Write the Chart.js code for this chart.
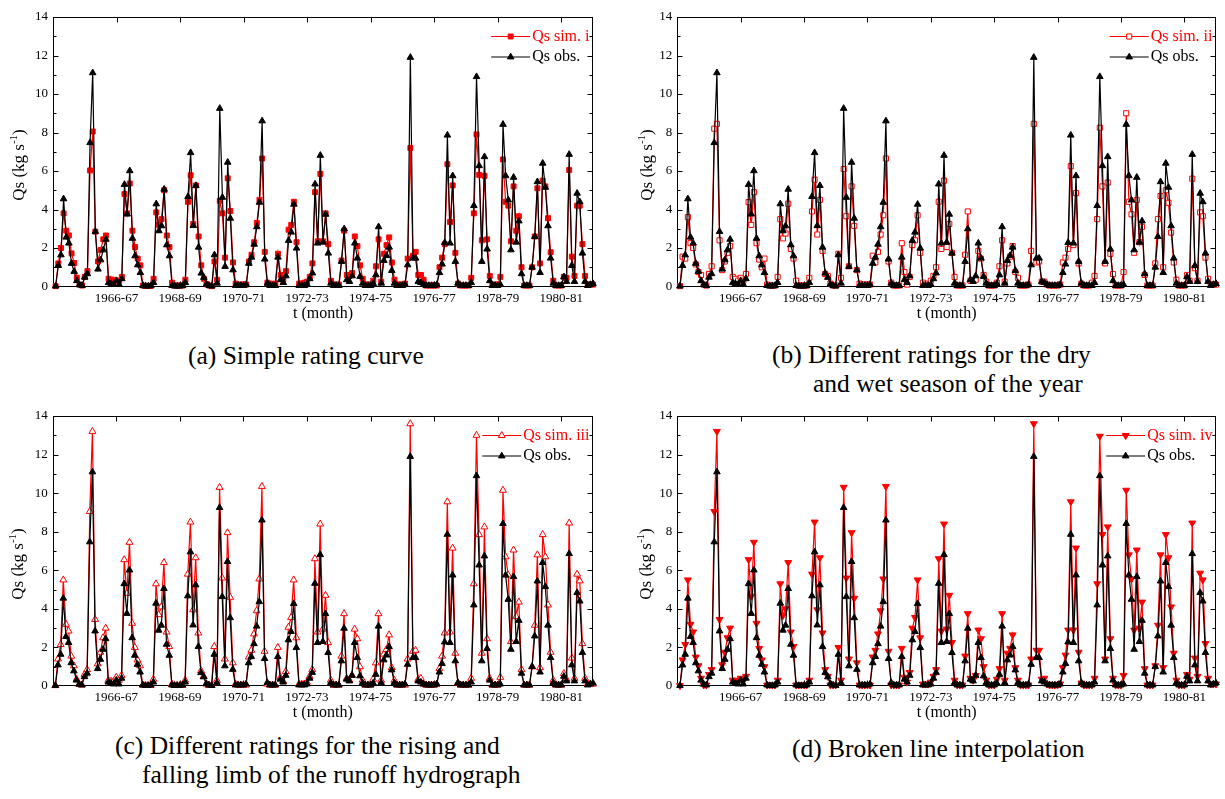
<!DOCTYPE html>
<html>
<head>
<meta charset="utf-8">
<script src="https://cdn.jsdelivr.net/npm/chart.js@4.4.1/dist/chart.umd.min.js"></script>
<style>
html,body{margin:0;padding:0;background:#fff;width:1225px;height:799px;overflow:hidden;}
.panel{position:absolute;}
.cap{position:absolute;font-family:"Liberation Serif","Times New Roman",serif;font-size:25.5px;line-height:1;white-space:nowrap;color:#000;}
</style>
</head>
<body>
<div class="panel" style="left:0;top:0;width:612px;height:330px"><canvas id="ca" width="612" height="330"></canvas></div>
<div class="panel" style="left:612px;top:0;width:613px;height:330px"><canvas id="cb" width="613" height="330"></canvas></div>
<div class="panel" style="left:0;top:400px;width:612px;height:330px"><canvas id="cc" width="612" height="330"></canvas></div>
<div class="panel" style="left:612px;top:400px;width:613px;height:330px"><canvas id="cd" width="613" height="330"></canvas></div>

<div class="cap" style="left:188px;top:342.6px">(a) Simple rating curve</div>
<div class="cap" style="left:772px;top:341.6px">(b) Different ratings for the dry</div>
<div class="cap" style="left:813px;top:370.6px">and wet season of the year</div>
<div class="cap" style="left:115px;top:732.6px">(c) Different ratings for the rising and</div>
<div class="cap" style="left:142px;top:761.6px">falling limb of the runoff hydrograph</div>
<div class="cap" style="left:792px;top:735.6px">(d) Broken line interpolation</div>

<script>
// ---- data (monthly sediment discharge, kg/s), months 1..204 ----
const tickMonths = [24, 48, 72, 96, 120, 144, 168, 192];
const tickLabels = ['1966-67', '1968-69', '1970-71', '1972-73', '1974-75', '1976-77', '1978-79', '1980-81'];

const qsObs = [
  0.02, 1.09, 1.64, 4.55, 2.56, 2.25, 1.2, 0.78, 0.3, 0.09,
  0.05, 0.48, 0.66, 7.47, 11.1, 2.85, 0.9, 1.38, 1.9, 2.45,
  0.2, 0.15, 0.1, 0.3, 0.1, 0.4, 5.3, 3.76, 6.01, 2.5,
  1.59, 1.12, 0.72, 0.05, 0.02, 0.02, 0.05, 0.2, 4.29, 2.89,
  3.15, 5.05, 2.16, 1.59, 0.05, 0.02, 0.02, 0.02, 0.05, 0.2,
  4.67, 6.95, 3.16, 5.24, 2.04, 0.69, 0.47, 0.12, 0.05, 0.02,
  1.64, 0.17, 9.25, 4.63, 1.04, 6.45, 3.54, 0.86, 0.05, 0.05,
  0.05, 0.05, 0.1, 1.2, 1.52, 2.19, 3.1, 4.37, 8.6, 1.42,
  0.17, 0.05, 0.05, 0.05, 1.52, 0.35, 0.2, 0.55, 2.39, 2.82,
  4.27, 1.99, 0.05, 0.05, 0.05, 0.1, 0.4, 0.7, 5.32, 2.25,
  6.81, 2.3, 3.75, 1.73, 0.17, 0.05, 0.05, 0.05, 1.3, 2.99,
  0.35, 0.26, 0.55, 2.25, 1.47, 0.52, 0.17, 0.05, 0.05, 0.05,
  0.15, 0.6, 3.1, 0.17, 1.35, 1.6, 2.04, 0.83, 0.17, 0.05,
  0.05, 0.05, 0.1, 1.12, 11.9, 1.47, 1.47, 0.26, 0.2, 0.1,
  0.05, 0.05, 0.05, 0.05, 0.1, 0.72, 1.16, 2.28, 7.86, 2.25,
  5.75, 1.3, 0.17, 0.05, 0.05, 0.05, 0.05, 0.2, 4.2, 10.9,
  6.27, 1.3, 6.74, 1.94, 0.3, 0.05, 0.05, 0.05, 0.1, 8.42,
  5.75, 4.49, 1.9, 5.67, 2.3, 3.4, 0.66, 0.05, 0.05, 0.05,
  1.0, 2.59, 5.44, 0.72, 6.4, 5.15, 3.15, 1.47, 0.17, 0.05,
  0.05, 0.05, 0.5, 0.26, 6.86, 1.09, 0.26, 4.84, 4.4, 1.73,
  0.26, 0.05, 0.1, 0.15
];

const qsSimI = [
  0.02, 1.2, 2.0, 3.8, 2.9, 2.65, 1.72, 1.22, 0.45, 0.1,
  0.05, 0.5, 0.8, 6.03, 8.05, 2.85, 1.3, 1.9, 2.45, 2.65,
  0.4, 0.35, 0.35, 0.3, 0.3, 0.5, 4.8, 3.8, 5.35, 2.9,
  2.05, 1.45, 1.1, 0.05, 0.03, 0.03, 0.03, 0.4, 3.85, 3.2,
  3.5, 5.0, 2.65, 2.05, 0.2, 0.05, 0.05, 0.05, 0.05, 0.35,
  4.4, 5.78, 3.25, 5.25, 2.6, 1.1, 0.4, 0.12, 0.05, 0.02,
  1.3, 0.35, 4.45, 3.8, 1.5, 5.62, 3.92, 1.25, 0.15, 0.1,
  0.1, 0.1, 0.1, 1.3, 1.65, 2.3, 3.3, 4.5, 6.65, 1.8,
  0.2, 0.15, 0.1, 0.15, 1.7, 0.6, 0.35, 0.8, 2.95, 3.2,
  4.4, 2.3, 0.15, 0.15, 0.2, 0.25, 0.5, 1.2, 4.9, 2.35,
  5.85, 2.35, 3.8, 2.2, 0.3, 0.1, 0.1, 0.1, 1.35, 2.9,
  0.6, 0.55, 0.7, 2.6, 2.1, 1.1, 0.4, 0.1, 0.1, 0.1,
  0.3, 1.05, 2.45, 0.25, 1.7, 2.15, 2.55, 1.25, 0.35, 0.1,
  0.1, 0.1, 0.15, 1.45, 7.2, 1.6, 1.8, 0.6, 0.6, 0.35,
  0.05, 0.05, 0.05, 0.05, 0.05, 1.0, 1.5, 2.2, 6.35, 3.35,
  5.25, 1.75, 0.15, 0.05, 0.05, 0.05, 0.05, 0.45, 3.8, 7.9,
  5.8, 2.4, 5.75, 2.45, 0.55, 0.1, 0.1, 0.1, 0.5, 6.6,
  4.4, 4.2, 2.35, 5.2, 2.9, 3.65, 1.0, 0.05, 0.05, 0.05,
  1.0, 2.6, 5.1, 1.2, 5.5, 5.2, 3.55, 1.78, 0.3, 0.05,
  0.05, 0.05, 0.5, 0.45, 6.05, 1.55, 0.55, 4.2, 4.2, 2.2,
  0.55, 0.1, 0.1, 0.1
];

const qsSimII = [
  0.02, 1.55, 1.45, 3.6, 2.25, 2.0, 1.15, 0.75, 0.6, 0.1,
  0.05, 0.65, 1.05, 8.2, 8.45, 2.4, 0.85, 1.3, 1.75, 2.1,
  0.5, 0.4, 0.3, 0.45, 0.3, 0.65, 4.38, 3.2, 4.9, 2.25,
  1.4, 1.0, 1.45, 0.1, 0.05, 0.05, 0.05, 0.5, 3.5, 2.5,
  2.75, 4.3, 1.95, 1.45, 0.3, 0.05, 0.05, 0.05, 0.05, 0.45,
  3.9, 5.55, 2.7, 4.5, 1.85, 0.65, 0.55, 0.15, 0.05, 0.05,
  1.7, 0.45, 6.1, 3.65, 1.05, 5.2, 3.15, 0.85, 0.15, 0.1,
  0.1, 0.1, 0.1, 1.6, 1.25, 1.8, 2.7, 3.7, 6.65, 1.3,
  0.2, 0.05, 0.05, 0.05, 2.25, 0.75, 0.1, 0.5, 2.15, 2.4,
  3.7, 1.75, 0.2, 0.1, 0.15, 0.3, 0.55, 1.0, 4.4, 1.95,
  5.5, 2.05, 3.25, 1.75, 0.5, 0.05, 0.05, 0.05, 1.65, 3.9,
  0.3, 0.3, 0.35, 1.85, 1.45, 0.6, 0.25, 0.05, 0.05, 0.05,
  0.2, 1.05, 2.4, 0.25, 1.2, 1.55, 2.1, 0.75, 0.45, 0.05,
  0.05, 0.05, 0.1, 1.85, 8.45, 1.25, 1.3, 0.25, 0.25, 0.1,
  0.05, 0.05, 0.05, 0.05, 0.1, 1.25, 1.5, 1.95, 6.25, 2.15,
  4.85, 1.2, 0.15, 0.05, 0.05, 0.05, 0.2, 0.55, 3.5, 8.25,
  5.2, 1.2, 5.4, 1.7, 0.65, 0.05, 0.05, 0.05, 0.75, 9.0,
  4.4, 3.75, 1.75, 4.5, 2.3, 3.1, 0.6, 0.05, 0.05, 0.05,
  1.2, 3.5, 4.7, 1.0, 5.0, 4.35, 2.8, 1.25, 0.35, 0.05,
  0.05, 0.05, 0.6, 0.3, 5.6, 0.95, 0.3, 3.85, 3.65, 1.5,
  0.4, 0.1, 0.1, 0.1
];

const qsSimIII = [
  0.02, 1.4, 2.15, 5.5, 3.2, 2.85, 1.55, 1.05, 0.35, 0.1,
  0.05, 0.6, 0.85, 9.05, 13.2, 3.45, 1.15, 1.75, 2.5, 3.0,
  0.3, 0.25, 0.25, 0.45, 0.3, 0.55, 6.55, 4.8, 7.45, 3.25,
  2.0, 1.35, 1.05, 0.05, 0.03, 0.03, 0.03, 0.35, 5.3, 3.7,
  4.1, 6.4, 2.8, 2.05, 0.1, 0.03, 0.03, 0.03, 0.03, 0.3,
  5.8, 8.5, 3.95, 6.65, 2.75, 0.8, 0.5, 0.1, 0.03, 0.03,
  2.05, 0.3, 10.3, 5.6, 1.4, 7.95, 4.6, 1.2, 0.1, 0.05,
  0.05, 0.05, 0.05, 1.5, 1.85, 2.7, 3.9, 5.55, 10.35, 1.8,
  0.1, 0.05, 0.05, 0.05, 2.0, 0.45, 0.25, 0.75, 3.05, 3.55,
  5.5, 2.5, 0.1, 0.1, 0.1, 0.2, 0.5, 0.85, 6.6, 2.8,
  8.4, 2.95, 4.7, 2.25, 0.3, 0.05, 0.05, 0.05, 1.55, 3.75,
  0.4, 0.3, 0.55, 2.95, 2.45, 1.0, 0.3, 0.05, 0.05, 0.05,
  0.35, 1.2, 3.75, 0.3, 1.65, 1.9, 2.65, 0.95, 0.3, 0.05,
  0.05, 0.05, 0.05, 1.4, 13.6, 1.8, 1.85, 0.35, 0.4, 0.1,
  0.05, 0.05, 0.05, 0.05, 0.1, 0.9, 1.55, 2.75, 9.55, 2.8,
  7.15, 1.7, 0.15, 0.05, 0.05, 0.05, 0.05, 0.4, 5.3, 13.0,
  7.85, 1.7, 8.25, 2.45, 0.4, 0.05, 0.05, 0.05, 0.45, 10.15,
  6.7, 5.75, 2.3, 7.05, 3.6, 4.35, 0.85, 0.05, 0.05, 0.05,
  1.0, 3.15, 6.8, 0.95, 7.85, 6.7, 4.2, 1.75, 0.3, 0.05,
  0.05, 0.05, 0.65, 0.35, 8.45, 1.45, 0.4, 5.8, 5.45, 2.2,
  0.4, 0.1, 0.1, 0.1
];

const qsSimIV = [
  0.02, 1.35, 2.15, 5.5, 3.2, 2.8, 1.5, 1.05, 0.4, 0.05,
  0.05, 0.6, 0.85, 9.05, 13.2, 3.45, 1.1, 1.75, 2.5, 3.0,
  0.3, 0.3, 0.25, 0.4, 0.25, 0.5, 6.55, 4.65, 7.45, 3.25,
  1.95, 1.35, 1.0, 0.05, 0.05, 0.05, 0.05, 0.3, 5.3, 3.65,
  4.0, 6.4, 2.8, 2.05, 0.05, 0.05, 0.05, 0.05, 0.05, 0.3,
  5.8, 8.5, 3.95, 6.65, 2.75, 0.85, 0.5, 0.05, 0.05, 0.05,
  2.0, 0.3, 10.3, 5.6, 1.4, 7.95, 4.55, 1.2, 0.05, 0.05,
  0.05, 0.05, 0.05, 1.5, 1.85, 2.7, 3.9, 5.55, 10.35, 1.8,
  0.05, 0.05, 0.05, 0.05, 1.95, 0.45, 0.2, 0.7, 3.0, 3.55,
  5.5, 2.5, 0.1, 0.1, 0.1, 0.2, 0.5, 0.85, 6.6, 2.85,
  8.4, 2.95, 4.7, 2.25, 0.3, 0.05, 0.05, 0.05, 1.55, 3.75,
  0.4, 0.3, 0.55, 2.9, 2.45, 1.0, 0.3, 0.05, 0.05, 0.05,
  0.35, 0.9, 3.75, 0.3, 1.7, 1.95, 2.65, 0.95, 0.3, 0.05,
  0.05, 0.05, 0.05, 1.4, 13.6, 1.85, 1.85, 0.35, 0.4, 0.1,
  0.05, 0.05, 0.05, 0.05, 0.1, 0.95, 1.6, 2.9, 9.55, 2.9,
  7.15, 1.75, 0.15, 0.05, 0.05, 0.05, 0.05, 0.4, 5.3, 12.95,
  7.85, 1.4, 8.25, 2.45, 0.4, 0.05, 0.05, 0.05, 0.55, 10.15,
  6.8, 5.55, 2.9, 7.05, 3.0, 4.35, 0.9, 0.05, 0.05, 0.05,
  1.05, 3.15, 6.8, 0.95, 7.85, 6.65, 4.1, 1.7, 0.3, 0.05,
  0.05, 0.05, 0.6, 0.35, 8.45, 1.45, 0.5, 5.85, 5.5, 2.2,
  0.4, 0.1, 0.1, 0.1
];

// month index of each observation (1 = first month of 1964-65)
const monthIndex = qsObs.map((_, i) => i + 1);

// ---- rendering ----
const SERIF = '"Liberation Serif", "Times New Roman", serif';
Chart.defaults.font.family = SERIF;
Chart.defaults.color = '#000';

function drawMarker(ctx, st, x, y) {
  ctx.save();
  ctx.fillStyle = st.fill;
  ctx.strokeStyle = st.stroke;
  ctx.lineWidth = 1;
  ctx.beginPath();
  if (st.shape === 'rect') {
    const s = st.radius * Math.SQRT1_2;
    ctx.rect(x - s, y - s, 2 * s, 2 * s);
  } else {
    let rad = (st.rotation || 0) * Math.PI / 180;
    ctx.moveTo(x + Math.sin(rad) * st.radius, y - Math.cos(rad) * st.radius);
    rad += 2 * Math.PI / 3;
    ctx.lineTo(x + Math.sin(rad) * st.radius, y - Math.cos(rad) * st.radius);
    rad += 2 * Math.PI / 3;
    ctx.lineTo(x + Math.sin(rad) * st.radius, y - Math.cos(rad) * st.radius);
    ctx.closePath();
  }
  ctx.fill();
  ctx.stroke();
  ctx.restore();
}

const framePlugin = {
  id: 'frame',
  beforeDatasetsDraw(chart) {
    const { ctx, chartArea: a, scales: { x, y } } = chart;
    ctx.save();
    ctx.strokeStyle = '#000';
    ctx.lineWidth = 1;
    const L = Math.round(a.left) + 0.5, R = Math.round(a.right) - 0.5;
    const T = Math.round(a.top) + 0.5, B = Math.round(a.bottom) - 0.5;
    ctx.strokeRect(L, T, R - L, B - T);
    ctx.beginPath();
    tickMonths.forEach(v => {
      const px = Math.round(x.getPixelForValue(v)) + 0.5;
      ctx.moveTo(px, B); ctx.lineTo(px, B - 5);
      ctx.moveTo(px, T); ctx.lineTo(px, T + 5);
    });
    for (let v = 1; v < 14; v++) {
      const py = Math.round(y.getPixelForValue(v)) + 0.5;
      const len = v % 2 === 0 ? 5 : 3;
      ctx.moveTo(L, py); ctx.lineTo(L + len, py);
      ctx.moveTo(R, py); ctx.lineTo(R - len, py);
    }
    ctx.stroke();
    ctx.restore();
  },
  afterDraw(chart, args, o) {
    const { ctx, chartArea: a } = chart;
    ctx.save();
    // x title
    ctx.fillStyle = '#000';
    ctx.font = '16px ' + SERIF;
    ctx.textAlign = 'center';
    ctx.textBaseline = 'middle';
    ctx.fillText('t (month)', (a.left + a.right) / 2, a.bottom + 27);
    // y title with superscript
    ctx.save();
    ctx.translate(a.left - o.yTitleDx, a.top + 148);
    ctx.rotate(-Math.PI / 2);
    const f1 = '17px ' + SERIF, f2 = '11px ' + SERIF;
    ctx.textAlign = 'left';
    ctx.textBaseline = 'alphabetic';
    ctx.font = f1;
    const w1 = ctx.measureText('Qs (kg s').width;
    const w3 = ctx.measureText(')').width;
    ctx.font = f2;
    const w2 = ctx.measureText('-1').width;
    let sx = -(w1 + w2 + w3) / 2;
    const base = 5.5;
    ctx.font = f1; ctx.fillText('Qs (kg s', sx, base); sx += w1;
    ctx.font = f2; ctx.fillText('-1', sx, base - 7); sx += w2;
    ctx.font = f1; ctx.fillText(')', sx, base);
    ctx.restore();
    // legend
    ctx.font = '16px ' + SERIF;
    ctx.textAlign = 'left';
    ctx.textBaseline = 'middle';
    const items = o.legend;
    const maxW = Math.max(...items.map(it => ctx.measureText(it.label).width));
    const tx = a.right - 3.5 - maxW;
    items.forEach((it, k) => {
      const yy = a.top + 19.5 + k * 20.5;
      ctx.strokeStyle = it.color;
      ctx.lineWidth = 1.2;
      ctx.beginPath();
      ctx.moveTo(tx - 41, yy); ctx.lineTo(tx - 2, yy);
      ctx.stroke();
      drawMarker(ctx, it.marker, tx - 21.5, yy);
      ctx.fillStyle = it.color;
      ctx.fillText(it.label, tx, yy);
    });
    ctx.restore();
  }
};

const obsMarker = { shape: 'triangle', rotation: 0, radius: 3.8, fill: '#000', stroke: '#000' };

function makePanel(id, sim, simLabel, mk, g) {
  const toPts = arr => arr.map((v, i) => ({ x: monthIndex[i], y: v }));
  return new Chart(document.getElementById(id), {
    type: 'line',
    data: {
      datasets: [
        {
          label: 'Qs obs.', data: toPts(qsObs), order: 0, clip: false,
          borderColor: '#000', backgroundColor: '#000', borderWidth: 1.2,
          pointStyle: 'triangle', pointRadius: obsMarker.radius, pointBorderWidth: 1,
          pointBackgroundColor: '#000', pointBorderColor: '#000', tension: 0
        },
        {
          label: simLabel, data: toPts(sim), order: 1, clip: false,
          borderColor: '#ff0000', backgroundColor: mk.fill, borderWidth: 1.2,
          pointStyle: mk.shape, pointRotation: mk.rotation || 0, pointRadius: mk.radius,
          pointBorderWidth: 1, pointBackgroundColor: mk.fill, pointBorderColor: '#ff0000', tension: 0
        }
      ]
    },
    options: {
      responsive: false, animation: false, devicePixelRatio: 1, events: [],
      layout: { padding: { left: 0, top: g.top, right: g.right, bottom: 0 } },
      plugins: {
        legend: { display: false }, tooltip: { enabled: false },
        frame: {
          yTitleDx: g.yTitleDx,
          legend: [
            { label: simLabel, color: '#ff0000', marker: Object.assign({ stroke: '#ff0000' }, mk) },
            { label: 'Qs obs.', color: '#000', marker: obsMarker }
          ]
        }
      },
      scales: {
        x: {
          type: 'linear', min: 0, max: 204,
          grid: { display: false, drawTicks: false }, border: { display: false },
          afterBuildTicks: s => { s.ticks = tickMonths.map(v => ({ value: v })); },
          afterFit: s => { s.height = g.xh; },
          ticks: {
            autoSkip: false, maxRotation: 0, minRotation: 0, padding: 4, color: '#000',
            font: { family: SERIF, size: 13 },
            callback: v => tickLabels[tickMonths.indexOf(v)]
          }
        },
        y: {
          type: 'linear', min: 0, max: 14,
          grid: { display: false, drawTicks: false }, border: { display: false },
          afterFit: s => { s.width = g.yw; },
          ticks: { stepSize: 2, padding: 5, color: '#000', font: { family: SERIF, size: 13 } }
        }
      }
    },
    plugins: [framePlugin]
  });
}

makePanel('ca', qsSimI, 'Qs sim. i',
  { shape: 'rect', radius: 3.5, fill: '#ff0000' },
  { top: 17, right: 19, xh: 43.5, yw: 53, yTitleDx: 35 });
makePanel('cb', qsSimII, 'Qs sim. ii',
  { shape: 'rect', radius: 3.6, fill: '#ffffff' },
  { top: 17, right: 9, xh: 43.5, yw: 65.3, yTitleDx: 31 });
makePanel('cc', qsSimIII, 'Qs sim. iii',
  { shape: 'triangle', rotation: 0, radius: 4, fill: '#ffffff' },
  { top: 16, right: 19, xh: 44, yw: 52.7, yTitleDx: 35 });
makePanel('cd', qsSimIV, 'Qs sim. iv',
  { shape: 'triangle', rotation: 180, radius: 4, fill: '#ff0000' },
  { top: 16, right: 9, xh: 44, yw: 65.3, yTitleDx: 32 });
</script>
</body>
</html>
